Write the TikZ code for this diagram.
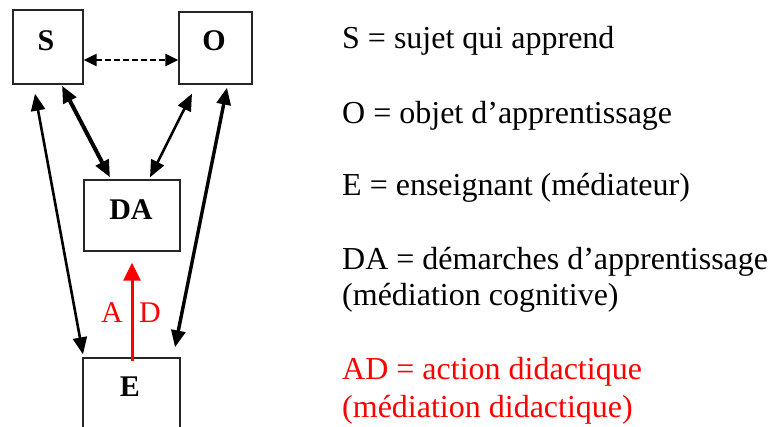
\documentclass[tikz,border=0pt]{standalone}
\usepackage{fontspec}
\setmainfont{Liberation Serif}
\usetikzlibrary{arrows.meta,calc}
\begin{document}
\begin{tikzpicture}[x=1pt,y=-1pt,
  box/.style={draw=black!85, line width=1.3pt, inner sep=0pt},
  lbl/.style={font=\fontsize{30}{30}\selectfont\bfseries, inner sep=0pt},
  leg/.style={anchor=base west, font=\fontsize{32}{34}\selectfont, inner sep=0pt},
  dbl/.style={{Triangle[length=17pt,width=14pt]}-{Triangle[length=17pt,width=14pt]}, line width=2.6pt},
]
\useasboundingbox (0,0) rectangle (771,426);
\clip (0,0) rectangle (771,426);
\fill[white] (0,0) rectangle (771,426);

% boxes
\node[box, minimum width=70pt, minimum height=74pt] (S) at (48,47) {};
\node[box, minimum width=73pt, minimum height=72pt] (O) at (215.5,48) {};
\node[box, minimum width=96pt, minimum height=71pt] (DA) at (132,215.5) {};
\node[box, minimum width=97pt, minimum height=90pt] (E) at (131.5,403) {};

% box labels
\node[lbl] (St) at (46,41) {S};
\node[lbl] (Ot) at (214,41) {O};
\node[lbl] (DAt) at (131,210) {DA};
\node[lbl] (Et) at (130,387) {E};

% connectors
\draw[{Triangle[length=13pt,width=12pt]}-{Triangle[length=13pt,width=12pt]}, line width=2.2pt, dash pattern=on 6pt off 3pt]
  ($(S.east)+(0,13)$) -- ($(O.west)+(0,12)$);
\draw[dbl, line width=4pt] ($(S.south)+(14,1)$) -- ($(DA.north)+(-22,-2)$);
\draw[dbl] ($(O.south)+(-23.5,9)$) -- ($(DA.north)+(18,-2)$);
\draw[dbl] ($(S.south)+(-13,9)$) -- ($(E.north)+(-48.5,-3)$);
\draw[dbl, line width=3.4pt] ($(O.south)+(11.5,3)$) -- ($(E.north)+(43.5,-10)$);

% didactic action
\draw[red, line width=3pt, -{Triangle[length=18pt,width=17pt]}] ($(E.north)+(0.5,4)$) -- ($(DA.south)+(0,11)$);
\node[red, font=\fontsize{30}{30}\selectfont, inner sep=0pt] (ADa) at (112,313) {A};
\node[red, font=\fontsize{30}{30}\selectfont, inner sep=0pt] (ADd) at (150,313) {D};

% legend
\node[leg] (l1) at (342,48) {S = sujet qui apprend};
\node[leg] (l2) at (342,123) {O = objet d’apprentissage};
\node[leg] (l3) at (342,195) {E = enseignant (médiateur)};
\node[leg] (l4) at (342,269) {DA = démarches d’apprentissage};
\node[leg] (l5) at (342,305) {(médiation cognitive)};
\node[leg, text=red] (l6) at (342,379) {AD = action didactique};
\node[leg, text=red] (l7) at (342,417) {(médiation didactique)};
\end{tikzpicture}
\end{document}
